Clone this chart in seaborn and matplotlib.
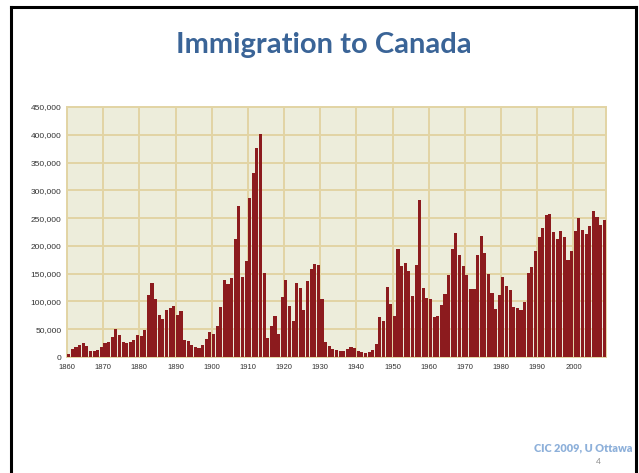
import numpy as np
import pandas as pd
import matplotlib
matplotlib.use("Agg")
import matplotlib.pyplot as plt
from matplotlib.lines import Line2D
import seaborn as sns

years = list(range(1860, 2009))
immigrants = [
    6276, 13589, 18294, 21000, 24779, 18958, 11427, 10666, 12765, 18630,
    24706, 27773, 36578, 50050, 39373, 27382, 25633, 27082, 29807, 40492,
    38505, 47991, 112458, 133624, 103824, 76169, 69152, 84526, 88766, 91600,
    75067, 82165, 30996, 29633, 20829, 18790, 16835, 21716, 31900, 44543,
    41681, 55747, 89102, 138660, 131252, 141465, 211653, 272409, 143326, 173694,
    286839, 331288, 375756, 400870, 150484, 33665, 55914, 72910, 41845, 107698,
    138824, 91728, 64224, 133729, 124164, 84907, 135982, 158886, 166783, 164993,
    104806, 27530, 20591, 14382, 12476, 11277, 11643, 15101, 17244, 16994,
    11324, 9329, 7576, 8504, 12801, 22722, 71719, 64127, 125414, 95217,
    73912, 194391, 164498, 168868, 154227, 109946, 164857, 282164, 124851, 106928,
    104111, 71698, 74586, 93151, 112606, 146758, 194743, 222876, 183974, 164531,
    147713, 121900, 122006, 184200, 218465, 187881, 149429, 114914, 86313, 112096,
    143117, 128618, 121147, 89157, 88239, 84302, 99219, 152098, 161929, 191556,
    216452, 232744, 254817, 256641, 224364, 212504, 226073, 216038, 174200, 189951,
    227458, 250637, 229048, 221349, 235823, 262240, 251640, 236753, 247243,
]
decade_labels = [str(y) for y in range(1860, 2001, 10)]
y_ticks = list(range(0, 450001, 50000))

df = pd.DataFrame({"year": [str(y) for y in years], "immigrants": immigrants})

sns.set_theme(style="white")
plt.rcParams["font.family"] = ["Liberation Sans", "DejaVu Sans"]

fig = plt.figure(figsize=(6.39, 4.73), dpi=100)
fig.patch.set_facecolor("white")

ax = fig.add_axes([67 / 639, 1 - 357 / 473, (606 - 67) / 639, 250 / 473])
bg = "#EDEDDB"
grid_c = "#E2D4A4"
ax.set_facecolor(bg)

sns.barplot(data=df, x="year", y="immigrants", color="#8C1B1E",
            saturation=1, width=0.86, ax=ax, edgecolor="none", zorder=3)

ax.set_xlim(-0.5, len(years) - 0.5)
ax.set_ylim(0, 450000)
ax.set_xticks([i - 0.5 for i in range(0, len(years), 10)])
ax.set_xticklabels(decade_labels, fontsize=5.5, color="#333333")
ax.set_yticks(y_ticks)
ax.set_yticklabels([f"{v:,}" for v in y_ticks], fontsize=6, color="#333333")
ax.grid(True, color=grid_c, linewidth=1.4, zorder=0)
ax.set_axisbelow(True)
ax.tick_params(axis="x", length=3, color=grid_c, width=1, pad=2)
ax.tick_params(axis="y", length=0, pad=4)
ax.set_xlabel("")
ax.set_ylabel("")
for side, sp in ax.spines.items():
    sp.set_color(grid_c)
    sp.set_linewidth(1.4)

# Title and footer
fig.text(324 / 639, 1 - 45 / 473, "Immigration to Canada", ha="center", va="center",
         fontsize=21, fontweight="bold", color="#3A6497", family="Lato")
fig.text(632 / 639, 1 - 448 / 473, "CIC 2009, U Ottawa", ha="right", va="center",
         fontsize=7.8, fontweight="heavy", color="#8DB0DA", family="Lato")
fig.text(598 / 639, 1 - 461 / 473, "4", ha="center", va="center",
         fontsize=6, color="#8C8C8C", family="Lato")

# slide border
def px(x, y):
    return (x / 639, 1 - y / 473)

for (x0, y0), (x1, y1) in [((11, 7), (11, 473)), ((11, 7), (636, 7)), ((636, 7), (636, 473))]:
    a, b = px(x0, y0), px(x1, y1)
    fig.add_artist(Line2D([a[0], b[0]], [a[1], b[1]], transform=fig.transFigure,
                          color="black", linewidth=2.2, solid_capstyle="projecting"))

fig.savefig("out.png", dpi=100, facecolor="white")
